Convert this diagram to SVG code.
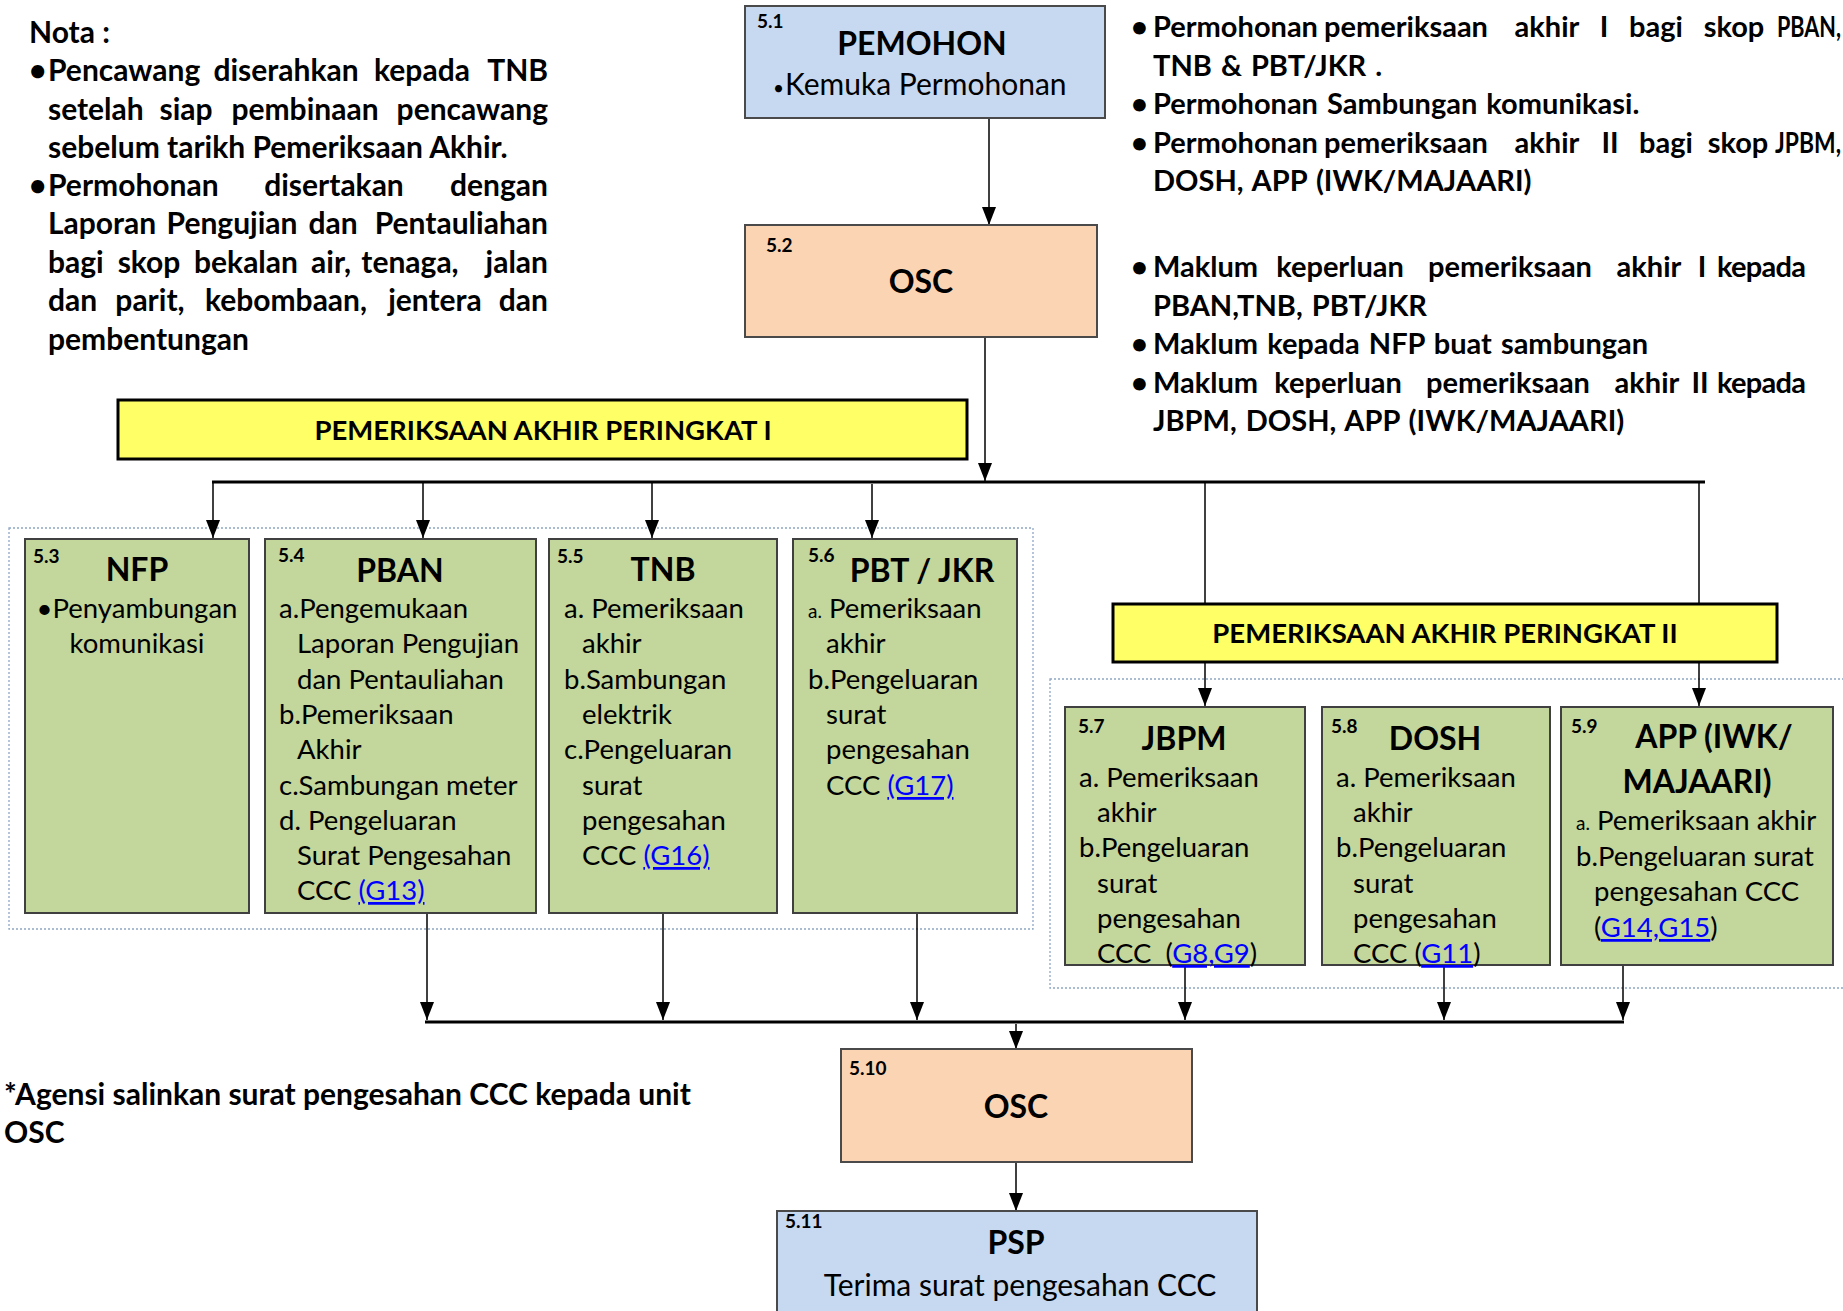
<svg xmlns="http://www.w3.org/2000/svg" width="1843" height="1311" viewBox="0 0 1843 1311">
<defs>
<style>
text{font-family:Lato,"Liberation Sans",sans-serif;fill:#000}
.note{font-size:30px;font-weight:700}
.rn{font-size:29px;font-weight:700}
.ws{word-spacing:2px}
.title{font-size:32px;font-weight:700;text-anchor:middle}
.num{font-size:19px;font-weight:700}
.body{font-size:27.5px}
.big{font-size:30px}
.sm{font-size:19px}
.link{fill:#0000ff;text-decoration:underline}
.bar{font-size:27.5px;font-weight:700;text-anchor:middle}
.end{text-anchor:end}
.mid{text-anchor:middle}
.blue{fill:#c6d9f1;stroke:#4a4a4a;stroke-width:2}
.orange{fill:#fbd4b4;stroke:#4a4a4a;stroke-width:2}
.green{fill:#c3d69b;stroke:#404040;stroke-width:2}
.yellow{fill:#ffff66;stroke:#000;stroke-width:3}
.dot{fill:none;stroke:#8ea6c4;stroke-width:1.3;stroke-dasharray:2 2}
.ln{fill:none;stroke:#000;stroke-width:1.5}
.arr{marker-end:url(#ah)}
.bus{fill:none;stroke:#000;stroke-width:3}
</style>
<marker id="ah" markerUnits="userSpaceOnUse" markerWidth="18" markerHeight="14" viewBox="0 0 18 14" refX="18" refY="7" orient="auto">
<path d="M0,0 L18,7 L0,14 z" fill="#000"/>
</marker>
</defs>

<!-- dotted grouping frames -->
<g id="frames">
<rect class="dot" x="9" y="528" width="1024" height="401"/>
<rect class="dot" x="1050" y="679" width="810" height="309"/>
</g>

<!-- connectors -->
<g id="connectors">
<line class="ln arr" x1="989" y1="118" x2="989" y2="225"/>
<line class="ln arr" x1="985" y1="337" x2="985" y2="481"/>
<line class="bus" x1="212" y1="482" x2="1705" y2="482"/>
<line class="ln arr" x1="213" y1="482" x2="213" y2="538"/>
<line class="ln arr" x1="423" y1="482" x2="423" y2="538"/>
<line class="ln arr" x1="652" y1="482" x2="652" y2="538"/>
<line class="ln arr" x1="872" y1="484" x2="872" y2="538"/>
<line class="ln arr" x1="1205" y1="482" x2="1205" y2="706"/>
<line class="ln arr" x1="1699" y1="482" x2="1699" y2="706"/>
<line class="ln arr" x1="427" y1="913" x2="427" y2="1020"/>
<line class="ln arr" x1="663" y1="913" x2="663" y2="1020"/>
<line class="ln arr" x1="917" y1="913" x2="917" y2="1020"/>
<line class="ln arr" x1="1185" y1="965" x2="1185" y2="1020"/>
<line class="ln arr" x1="1444" y1="965" x2="1444" y2="1020"/>
<line class="ln arr" x1="1623" y1="965" x2="1623" y2="1020"/>
<line class="bus" x1="425" y1="1022" x2="1624" y2="1022"/>
<line class="ln arr" x1="1016" y1="1024" x2="1016" y2="1049"/>
<line class="ln arr" x1="1016" y1="1162" x2="1016" y2="1211"/>
</g>

<!-- notes -->
<g id="nota">
<text class="note" x="29" y="43">Nota :</text>
<text class="note" x="29" y="81">•</text>
<text class="note" x="48" y="81">Pencawang</text>
<text class="note mid" x="286" y="81">diserahkan</text>
<text class="note mid" x="422" y="81">kepada</text>
<text class="note end" x="548" y="81">TNB</text>
<text class="note" x="48" y="120">setelah</text>
<text class="note mid" x="186" y="120">siap</text>
<text class="note mid" x="305" y="120">pembinaan</text>
<text class="note end" x="548" y="120">pencawang</text>
<text class="note" x="48" y="158">sebelum tarikh Pemeriksaan Akhir.</text>
<text class="note" x="29" y="196">•</text>
<text class="note" x="48" y="196">Permohonan</text>
<text class="note mid" x="334" y="196">disertakan</text>
<text class="note end" x="548" y="196">dengan</text>
<text class="note" x="48" y="234">Laporan</text>
<text class="note mid" x="232" y="234">Pengujian</text>
<text class="note mid" x="333" y="234">dan</text>
<text class="note end" x="548" y="234">Pentauliahan</text>
<text class="note" x="48" y="273">bagi</text>
<text class="note mid" x="149" y="273">skop</text>
<text class="note mid" x="246" y="273">bekalan</text>
<text class="note mid" x="331" y="273">air,</text>
<text class="note mid" x="410" y="273">tenaga,</text>
<text class="note end" x="548" y="273">jalan</text>
<text class="note" x="48" y="311">dan</text>
<text class="note mid" x="150" y="311">parit,</text>
<text class="note mid" x="286" y="311">kebombaan,</text>
<text class="note mid" x="435" y="311">jentera</text>
<text class="note end" x="548" y="311">dan</text>
<text class="note" x="48" y="350">pembentungan</text>
</g>

<g id="notes-right">
<text class="rn" x="1131" y="37">•</text>
<text class="rn" x="1153" y="37">Permohonan</text>
<text class="rn mid" x="1406" y="37">pemeriksaan</text>
<text class="rn mid" x="1547" y="37">akhir</text>
<text class="rn mid" x="1604" y="37">I</text>
<text class="rn mid" x="1656" y="37">bagi</text>
<text class="rn mid" x="1734" y="37">skop</text>
<text class="rn" x="1777" y="37" textLength="64" lengthAdjust="spacingAndGlyphs">PBAN,</text>
<text class="rn ws" x="1153" y="76">TNB &amp; PBT/JKR .</text>
<text class="rn" x="1131" y="114">•</text>
<text class="rn ws" x="1153" y="114">Permohonan Sambungan komunikasi.</text>
<text class="rn" x="1131" y="153">•</text>
<text class="rn" x="1153" y="153">Permohonan</text>
<text class="rn mid" x="1406" y="153">pemeriksaan</text>
<text class="rn mid" x="1547" y="153">akhir</text>
<text class="rn mid" x="1610" y="153">II</text>
<text class="rn mid" x="1666" y="153">bagi</text>
<text class="rn mid" x="1738" y="153">skop</text>
<text class="rn" x="1775" y="153" textLength="66" lengthAdjust="spacingAndGlyphs">JPBM,</text>
<text class="rn ws" x="1153" y="191">DOSH, APP (IWK/MAJAARI)</text>

<text class="rn" x="1131" y="277">•</text>
<text class="rn" x="1153" y="277">Maklum</text>
<text class="rn mid" x="1340" y="277">keperluan</text>
<text class="rn mid" x="1510" y="277">pemeriksaan</text>
<text class="rn mid" x="1649" y="277">akhir</text>
<text class="rn mid" x="1702" y="277">I</text>
<text class="rn" x="1717" y="277" textLength="89" lengthAdjust="spacing">kepada</text>
<text class="rn ws" x="1153" y="316">PBAN,TNB, PBT/JKR</text>
<text class="rn" x="1131" y="354">•</text>
<text class="rn ws" x="1153" y="354">Maklum kepada NFP buat sambungan</text>
<text class="rn" x="1131" y="393">•</text>
<text class="rn" x="1153" y="393">Maklum</text>
<text class="rn mid" x="1338" y="393">keperluan</text>
<text class="rn mid" x="1508" y="393">pemeriksaan</text>
<text class="rn mid" x="1647" y="393">akhir</text>
<text class="rn mid" x="1700" y="393">II</text>
<text class="rn" x="1717" y="393" textLength="89" lengthAdjust="spacing">kepada</text>
<text class="rn ws" x="1153" y="431">JBPM, DOSH, APP (IWK/MAJAARI)</text>
</g>

<g id="footnote">
<text class="note" x="4" y="1105">*Agensi salinkan surat pengesahan CCC kepada unit</text>
<text class="note" x="4" y="1143">OSC</text>
</g>

<!-- nodes -->
<g id="n5-1">
<rect class="blue" x="745" y="6" width="360" height="112"/>
<text class="num" x="757" y="28">5.1</text>
<text class="title" x="922" y="55">PEMOHON</text>
<text class="body big" x="773" y="95"><tspan class="sm">•</tspan></text>
<text class="body big" x="785" y="95">Kemuka Permohonan</text>
</g>

<g id="n5-2">
<rect class="orange" x="745" y="225" width="352" height="112"/>
<text class="num" x="766" y="252">5.2</text>
<text class="title" x="921" y="293">OSC</text>
</g>

<g id="bar1">
<rect class="yellow" x="118" y="400" width="849" height="59"/>
<text class="bar" x="543" y="440">PEMERIKSAAN AKHIR PERINGKAT I</text>
</g>

<g id="bar2">
<rect class="yellow" x="1113" y="604" width="664" height="58"/>
<text class="bar" x="1445" y="643">PEMERIKSAAN AKHIR PERINGKAT II</text>
</g>

<g id="n5-3">
<rect class="green" x="25" y="539" width="224" height="374"/>
<text class="num" x="33" y="563">5.3</text>
<text class="title" x="137" y="581">NFP</text>
<text class="body mid" x="137" y="618">•Penyambungan</text>
<text class="body mid" x="137" y="653">komunikasi</text>
</g>

<g id="n5-4">
<rect class="green" x="265" y="539" width="271" height="374"/>
<text class="num" x="278" y="562">5.4</text>
<text class="title" x="400" y="582">PBAN</text>
<text class="body" x="279" y="618">a.Pengemukaan</text>
<text class="body" x="297" y="653">Laporan Pengujian</text>
<text class="body" x="297" y="689">dan Pentauliahan</text>
<text class="body" x="279" y="724">b.Pemeriksaan</text>
<text class="body" x="297" y="759">Akhir</text>
<text class="body" x="279" y="795">c.Sambungan meter</text>
<text class="body" x="279" y="830">d. Pengeluaran</text>
<text class="body" x="297" y="865">Surat Pengesahan</text>
<text class="body" x="297" y="900">CCC <tspan class="link">(G13)</tspan></text>
</g>

<g id="n5-5">
<rect class="green" x="549" y="539" width="228" height="374"/>
<text class="num" x="557" y="563">5.5</text>
<text class="title" x="663" y="581">TNB</text>
<text class="body" x="564" y="618">a. Pemeriksaan</text>
<text class="body" x="582" y="653">akhir</text>
<text class="body" x="564" y="689">b.Sambungan</text>
<text class="body" x="582" y="724">elektrik</text>
<text class="body" x="564" y="759">c.Pengeluaran</text>
<text class="body" x="582" y="795">surat</text>
<text class="body" x="582" y="830">pengesahan</text>
<text class="body" x="582" y="865">CCC <tspan class="link">(G16)</tspan></text>
</g>

<g id="n5-6">
<rect class="green" x="793" y="539" width="224" height="374"/>
<text class="num" x="808" y="562">5.6</text>
<text class="title" x="922" y="582">PBT / JKR</text>
<text class="body" x="808" y="618"><tspan class="sm">a.</tspan> Pemeriksaan</text>
<text class="body" x="826" y="653">akhir</text>
<text class="body" x="808" y="689">b.Pengeluaran</text>
<text class="body" x="826" y="724">surat</text>
<text class="body" x="826" y="759">pengesahan</text>
<text class="body" x="826" y="795">CCC <tspan class="link">(G17)</tspan></text>
</g>

<g id="n5-7">
<rect class="green" x="1065" y="707" width="240" height="258"/>
<text class="num" x="1078" y="733">5.7</text>
<text class="title" x="1184" y="750">JBPM</text>
<text class="body" x="1079" y="787">a. Pemeriksaan</text>
<text class="body" x="1097" y="822">akhir</text>
<text class="body" x="1079" y="857">b.Pengeluaran</text>
<text class="body" x="1097" y="893">surat</text>
<text class="body" x="1097" y="928">pengesahan</text>
<text class="body" x="1097" y="963" xml:space="preserve">CCC  (<tspan class="link">G8,G9</tspan>)</text>
</g>

<g id="n5-8">
<rect class="green" x="1322" y="707" width="228" height="258"/>
<text class="num" x="1331" y="733">5.8</text>
<text class="title" x="1435" y="750">DOSH</text>
<text class="body" x="1336" y="787">a. Pemeriksaan</text>
<text class="body" x="1353" y="822">akhir</text>
<text class="body" x="1336" y="857">b.Pengeluaran</text>
<text class="body" x="1353" y="893">surat</text>
<text class="body" x="1353" y="928">pengesahan</text>
<text class="body" x="1353" y="963">CCC (<tspan class="link">G11</tspan>)</text>
</g>

<g id="n5-9">
<rect class="green" x="1561" y="707" width="272" height="258"/>
<text class="num" x="1571" y="733">5.9</text>
<text class="title" x="1714" y="748">APP (IWK/</text>
<text class="title" x="1697" y="793">MAJAARI)</text>
<text class="body" x="1576" y="830"><tspan class="sm">a.</tspan> Pemeriksaan akhir</text>
<text class="body" x="1576" y="866">b.Pengeluaran surat</text>
<text class="body" x="1594" y="901">pengesahan CCC</text>
<text class="body" x="1594" y="937">(<tspan class="link">G14,G15</tspan>)</text>
</g>

<g id="n5-10">
<rect class="orange" x="841" y="1049" width="351" height="113"/>
<text class="num" x="849" y="1075">5.10</text>
<text class="title" x="1016" y="1118">OSC</text>
</g>

<g id="n5-11">
<rect class="blue" x="777" y="1211" width="480" height="110"/>
<text class="num" x="785" y="1228">5.11</text>
<text class="title" x="1016" y="1254">PSP</text>
<text class="body big mid" x="1020" y="1296">Terima surat pengesahan CCC</text>
</g>
</svg>
